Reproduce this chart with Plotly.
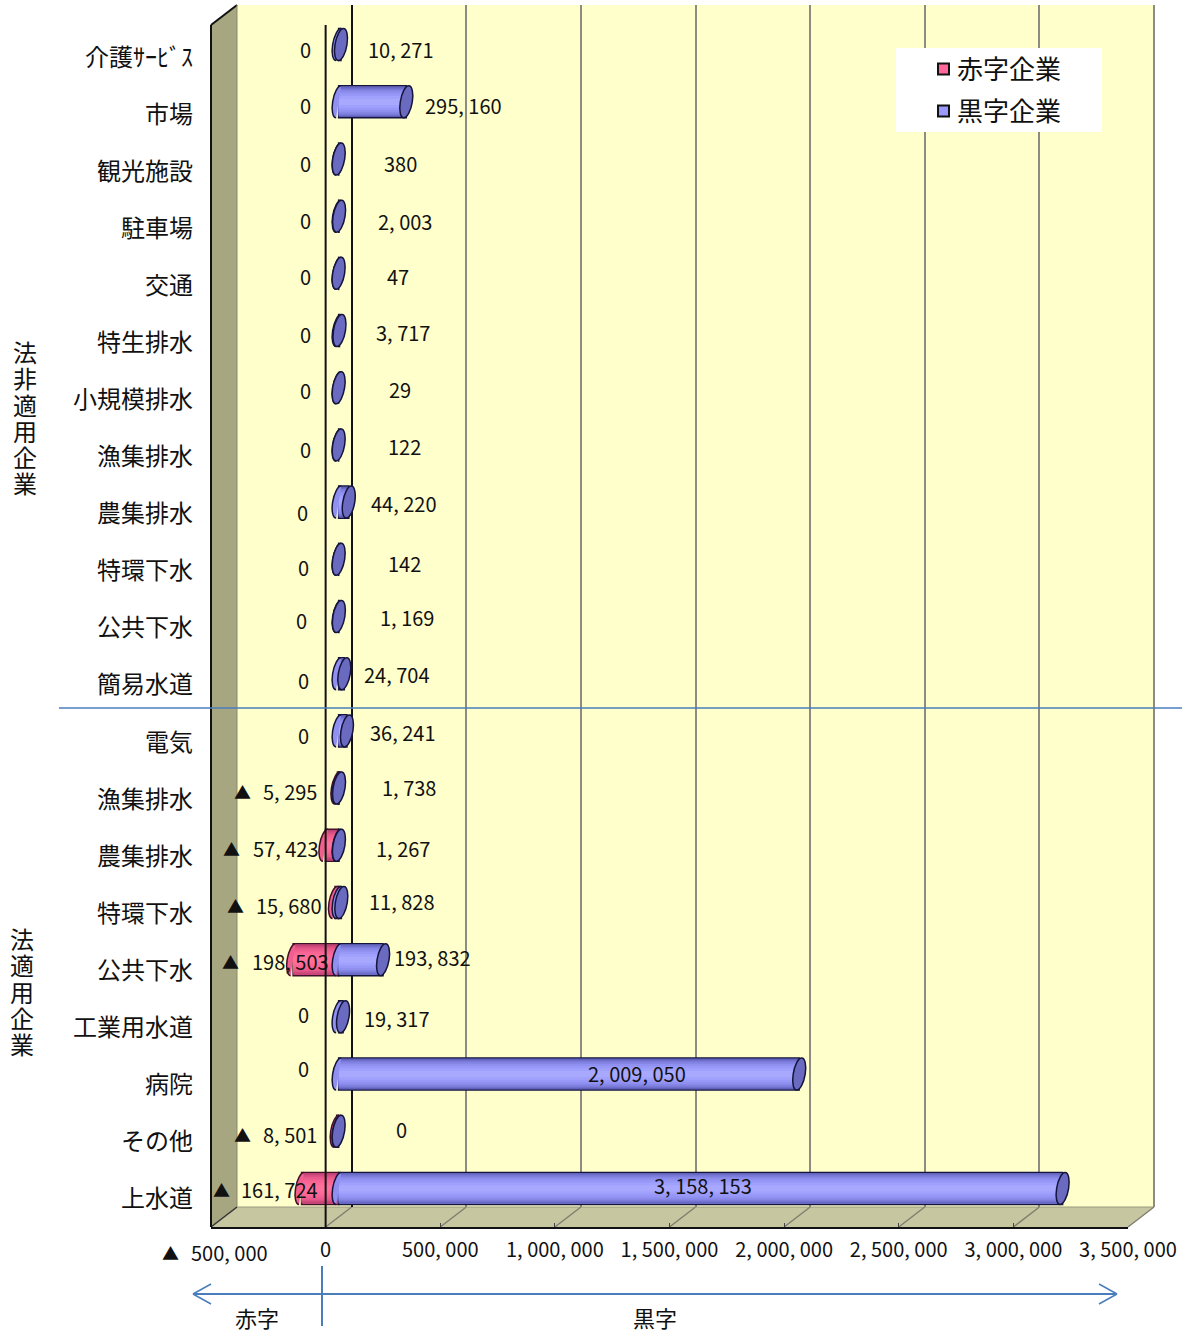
import plotly.graph_objects as go

FONT = "Noto Sans CJK JP"
W, H = 1182, 1330

# Categories from bottom to top of the chart
categories = ["上水道", "その他", "病院", "工業用水道", "公共下水", "特環下水", "農集排水", "漁集排水", "電気",
              "簡易水道", "公共下水", "特環下水", "農集排水", "漁集排水", "小規模排水", "特生排水",
              "交通", "駐車場", "観光施設", "市場", "介護ｻｰﾋﾞｽ"]
deficit = [161724, 8501, 0, 0, 198503, 15680, 57423, 5295, 0,
           0, 0, 0, 0, 0, 0, 0, 0, 0, 0, 0, 0]
surplus = [3158153, 0, 2009050, 19317, 193832, 11828, 1267, 1738, 36241,
           24704, 1169, 142, 44220, 122, 29, 3717, 47, 2003, 380, 295160, 10271]
axis_values = [-500000, 0, 500000, 1000000, 1500000, 2000000, 2500000, 3000000, 3500000]

# Hand placed label centres in page pixels, same order as the categories
deficit_label_xy = [(279, 1190), (290, 1135), (303, 1069), (303, 1015), (290, 963), (289, 906), (286, 849),
                    (290, 792), (303, 736), (303, 681), (301, 621), (304, 568), (302, 513), (305, 450),
                    (305, 392), (305, 335), (305, 278), (305, 221), (305, 164), (305, 107), (305, 50)]
deficit_mark_xy = {0: (221, 1190), 1: (242, 1135), 4: (230, 963), 5: (235, 906), 6: (232, 849), 7: (242, 792)}
surplus_label_xy = [(703, 1186), (401, 1130), (637, 1074), (397, 1019), (432, 958), (402, 903), (403, 849),
                    (409, 788), (403, 733), (397, 675), (407, 618), (405, 564), (404, 504), (405, 447),
                    (400, 390), (403, 333), (398, 278), (405, 222), (400, 164), (464, 107), (401, 50)]

# Planes of the box, in page pixels: back wall, middle (bars), front (axes)
BACK = dict(l=237, r=1154, t=5, b=1207)
MID = dict(l=224, r=1141, t=16, b=1217)
FRONT = dict(l=211, r=1128, t=29, b=1227)
FRONT_TOP = 25
XRANGE = [-500000, 3500000]
YRANGE = [-0.5, 20.5]

BAR_W = 0.56
CAP_A, CAP_B, CAP_TILT = 6, 16, 2.5
BLUE_SHADES = [(0.53, "#5c5cb8"), (0.50, "#6c6cca"), (0.46, "#7a7ad9"), (0.41, "#8686e6"),
               (0.35, "#9090f0"), (0.28, "#9898f8"), (0.20, "#a0a0fd"), (0.11, "#a8a8ff")]
PINK_SHADES = [(0.53, "#b83c70"), (0.50, "#c84679"), (0.46, "#d84f82"), (0.41, "#e6578a"),
               (0.35, "#f05e90"), (0.28, "#f86494"), (0.20, "#fd6a98"), (0.11, "#ff709c")]
OUTLINE = "#14143c"
PINK_OUTLINE = "#401028"
BLUE_LINE = "#4a7ebb"
GRID = "#8c8c84"
TEXT = "#111111"
SERIES_NAMES = ["赤字企業", "黒字企業"]
SERIES_COLORS = ["#ff6699", "#9999ff"]


def px(x):
    return x / W


def py(y):
    return 1 - y / H


def comma(v):
    return f"{v:,}".replace(",", ", ")


def ellipse_point(u, v):
    return CAP_A * u + CAP_TILT * v, CAP_B * v


def bezier_path(arcs):
    k = 0.5523
    start = ellipse_point(*arcs[0][0])
    out = f"M{start[0]:.2f},{start[1]:.2f}"
    for (u0, v0), (u1, v1) in arcs:
        # Unit circle quarter arc, tangents perpendicular to the radius
        c1 = ellipse_point(u0 + k * u1, v0 + k * v1)
        c2 = ellipse_point(u1 + k * u0, v1 + k * v0)
        e = ellipse_point(u1, v1)
        out += f" C{c1[0]:.2f},{c1[1]:.2f} {c2[0]:.2f},{c2[1]:.2f} {e[0]:.2f},{e[1]:.2f}"
    return out


FULL_CAP = bezier_path([((1, 0), (0, 1)), ((0, 1), (-1, 0)), ((-1, 0), (0, -1)), ((0, -1), (1, 0))]) + " Z"
LEFT_ARC = bezier_path([((0, 1), (-1, 0)), ((-1, 0), (0, -1))])

fig = go.Figure()

# Empty trace so the back wall subplot exists
fig.add_trace(go.Scatter(x=[0], y=[0], xaxis="x", yaxis="y", mode="markers", marker_opacity=0,
                         showlegend=False, hoverinfo="skip"))


def add_tube(name, xs, base_color, line_color, shades):
    common = dict(y=list(range(len(xs))), orientation="h", xaxis="x2", yaxis="y2", showlegend=False)
    fig.add_trace(go.Bar(x=xs, name=name, width=BAR_W,
                         marker=dict(color=base_color, line=dict(color=line_color, width=1.5)), **common))
    for w, c in shades:
        fig.add_trace(go.Bar(x=xs, width=w, hoverinfo="skip",
                             marker=dict(color=c, line=dict(width=0)), **common))


add_tube(SERIES_NAMES[0], [-v if v else None for v in deficit], SERIES_COLORS[0], PINK_OUTLINE, PINK_SHADES)
add_tube(SERIES_NAMES[1], [v if v else None for v in surplus], SERIES_COLORS[1], OUTLINE, BLUE_SHADES)

# Empty trace so the front axes subplot exists
fig.add_trace(go.Scatter(x=[0], y=[0], xaxis="x3", yaxis="y3", mode="markers", marker_opacity=0,
                         showlegend=False, hoverinfo="skip"))

shapes = []


def poly(points, fill, line="rgba(0,0,0,0)", width=0, layer="below"):
    d = "M" + " L".join(f"{px(x):.5f},{py(y):.5f}" for x, y in points) + " Z"
    shapes.append(dict(type="path", path=d, xref="paper", yref="paper", fillcolor=fill,
                       line=dict(color=line, width=width), layer=layer))


def seg(x0, y0, x1, y1, color, width, layer="below"):
    shapes.append(dict(type="line", xref="paper", yref="paper", x0=px(x0), y0=py(y0), x1=px(x1), y1=py(y1),
                       line=dict(color=color, width=width), layer=layer))


# Walls and floor
poly([(BACK["l"], BACK["t"]), (BACK["r"], BACK["t"]), (BACK["r"], BACK["b"]), (BACK["l"], BACK["b"])], "#ffffcc")
poly([(FRONT["l"], FRONT_TOP), (BACK["l"], BACK["t"]), (BACK["l"], BACK["b"]), (FRONT["l"], FRONT["b"])], "#a6a680")
poly([(FRONT["l"], FRONT["b"]), (BACK["l"], BACK["b"]), (BACK["r"], BACK["b"]), (FRONT["r"], FRONT["b"])], "#c6c6a0")
seg(FRONT["l"], FRONT_TOP, BACK["l"], BACK["t"], "#111111", 2)
seg(FRONT["l"], FRONT_TOP, FRONT["l"], FRONT["b"], "#111111", 2, "above")
seg(FRONT["l"], FRONT["b"], BACK["l"], BACK["b"], "#333333", 1.5)
seg(BACK["l"], BACK["t"], BACK["l"], BACK["b"], "#8a8a70", 1)
seg(BACK["l"], BACK["b"], BACK["r"], BACK["b"], "#9a9a80", 1)
seg(BACK["r"], BACK["t"], BACK["r"], BACK["b"], GRID, 2)

# Floor grid running from the front axis to the back wall
x_span = XRANGE[1] - XRANGE[0]
for v in axis_values[1:]:
    frac = (v - XRANGE[0]) / x_span
    fx = FRONT["l"] + frac * (FRONT["r"] - FRONT["l"])
    bx = BACK["l"] + frac * (BACK["r"] - BACK["l"])
    seg(fx, FRONT["b"], bx, BACK["b"], "#808070", 1.5)

# Legend box and swatches
shapes.append(dict(type="rect", xref="paper", yref="paper", x0=px(896), x1=px(1102), y0=py(132), y1=py(48),
                   fillcolor="white", line=dict(width=0), layer="above"))
for row_y, color in zip((69, 111), SERIES_COLORS):
    shapes.append(dict(type="rect", xref="paper", yref="paper", x0=px(938), x1=px(949),
                       y0=py(row_y + 5.5), y1=py(row_y - 5.5), fillcolor=color,
                       line=dict(color="#111111", width=2), layer="above"))


def cap(value, index, path, fill, line):
    shapes.append(dict(type="path", path=path, xref="x2", yref="y2", xsizemode="pixel", ysizemode="pixel",
                       xanchor=value, yanchor=index, fillcolor=fill, line=dict(color=line, width=1.5),
                       layer="above"))


# Cylinder ends
for i, (r, b) in enumerate(zip(deficit, surplus)):
    if r:
        cap(-r, i, LEFT_ARC, "#f0608f", PINK_OUTLINE)
    cap(0, i, LEFT_ARC, "#9090f0", OUTLINE)
    cap(b, i, FULL_CAP, "#6a6ac0", OUTLINE)

# Front zero line in front of the cylinders
shapes.append(dict(type="line", xref="x3", yref="paper", x0=0, x1=0, y0=py(FRONT["b"]), y1=py(FRONT_TOP),
                   line=dict(color="#111111", width=2), layer="above"))

# Divider between the two groups and the deficit/surplus arrow
seg(59, 708, W, 708, BLUE_LINE, 1.5, "above")
seg(193, 1294, 1117, 1294, BLUE_LINE, 2, "above")
seg(193, 1294, 211, 1284, BLUE_LINE, 1.5, "above")
seg(193, 1294, 211, 1304, BLUE_LINE, 1.5, "above")
seg(1117, 1294, 1099, 1284, BLUE_LINE, 1.5, "above")
seg(1117, 1294, 1099, 1304, BLUE_LINE, 1.5, "above")
seg(322, 1266, 322, 1326, BLUE_LINE, 2, "above")

annotations = []


def note(text, x, y, size=20, anchor="center"):
    annotations.append(dict(text=text, x=px(x), y=py(y - 1), xref="paper", yref="paper", showarrow=False,
                            xanchor=anchor, yanchor="middle",
                            font=dict(family=FONT, size=size, color=TEXT)))


def stacked(text, x, y):
    # One line per glyph; the line pitch follows the smaller outer font size
    body = "<br>".join(f'<span style="font-size:24px">{ch}</span>' for ch in text)
    note(body, x, y, 20.2)


# Value labels
for v, (x, y) in zip(deficit, deficit_label_xy):
    note(comma(v), x, y)
for i, (x, y) in deficit_mark_xy.items():
    note("▲", x, y, 17)
for v, (x, y) in zip(surplus, surplus_label_xy):
    note(comma(v), x, y)

# Legend entries
for row_y, name in zip((69, 111), SERIES_NAMES):
    note(name, 955, row_y, 26, "left")

# Group captions
stacked("法非適用企業", 25, 418)
stacked("法適用企業", 22, 992)

note("赤字", 257, 1318, 22)
note("黒字", 655, 1318, 22)
note("▲", 170, 1253, 17)
note(comma(500000), 229, 1253)

blank_axis = dict(showgrid=False, zeroline=False, showticklabels=False, ticks="", showline=False, fixedrange=True)

fig.update_layout(
    width=W, height=H, autosize=False,
    margin=dict(l=0, r=0, t=0, b=0, autoexpand=False),
    paper_bgcolor="white", plot_bgcolor="rgba(0,0,0,0)",
    barmode="overlay", hovermode=False,
    shapes=shapes, annotations=annotations,
    showlegend=False,
    # Back wall with the grid
    xaxis=dict(domain=[px(BACK["l"]), px(BACK["r"])], range=XRANGE, anchor="y", tickmode="array",
               tickvals=axis_values, showticklabels=False, ticks="", showgrid=True, gridcolor=GRID,
               gridwidth=2, zeroline=True, zerolinecolor="#111111", zerolinewidth=2, showline=False,
               fixedrange=True),
    yaxis=dict(domain=[py(BACK["b"]), py(BACK["t"])], range=YRANGE, anchor="x", **blank_axis),
    # Cylinders sit half way between the front and the back
    xaxis2=dict(domain=[px(MID["l"]), px(MID["r"])], range=XRANGE, anchor="y2", **blank_axis),
    yaxis2=dict(domain=[py(MID["b"]), py(MID["t"])], range=YRANGE, anchor="x2", **blank_axis),
    # Front edge carries the tick labels
    xaxis3=dict(domain=[px(FRONT["l"]), px(FRONT["r"])], range=XRANGE, anchor="y3", tickmode="array",
                tickvals=axis_values,
                ticktext=["" if v < 0 else comma(v) for v in axis_values],
                ticks="inside", ticklen=4, tickcolor="#444444", tickwidth=1, tickangle=0,
                ticklabelstandoff=4,
                tickfont=dict(family=FONT, size=20, color=TEXT), showgrid=False, zeroline=False,
                showline=True, linecolor="#111111", linewidth=2, fixedrange=True),
    yaxis3=dict(domain=[py(FRONT["b"]), py(FRONT["t"])], range=YRANGE, anchor="x3", tickmode="array",
                tickvals=list(range(len(categories))), ticktext=categories, ticks="",
                ticklabelstandoff=17, tickfont=dict(family=FONT, size=24, color=TEXT),
                showgrid=False, zeroline=False, showline=False, fixedrange=True),
)

fig.write_html("out.html", config=dict(displayModeBar=False))
